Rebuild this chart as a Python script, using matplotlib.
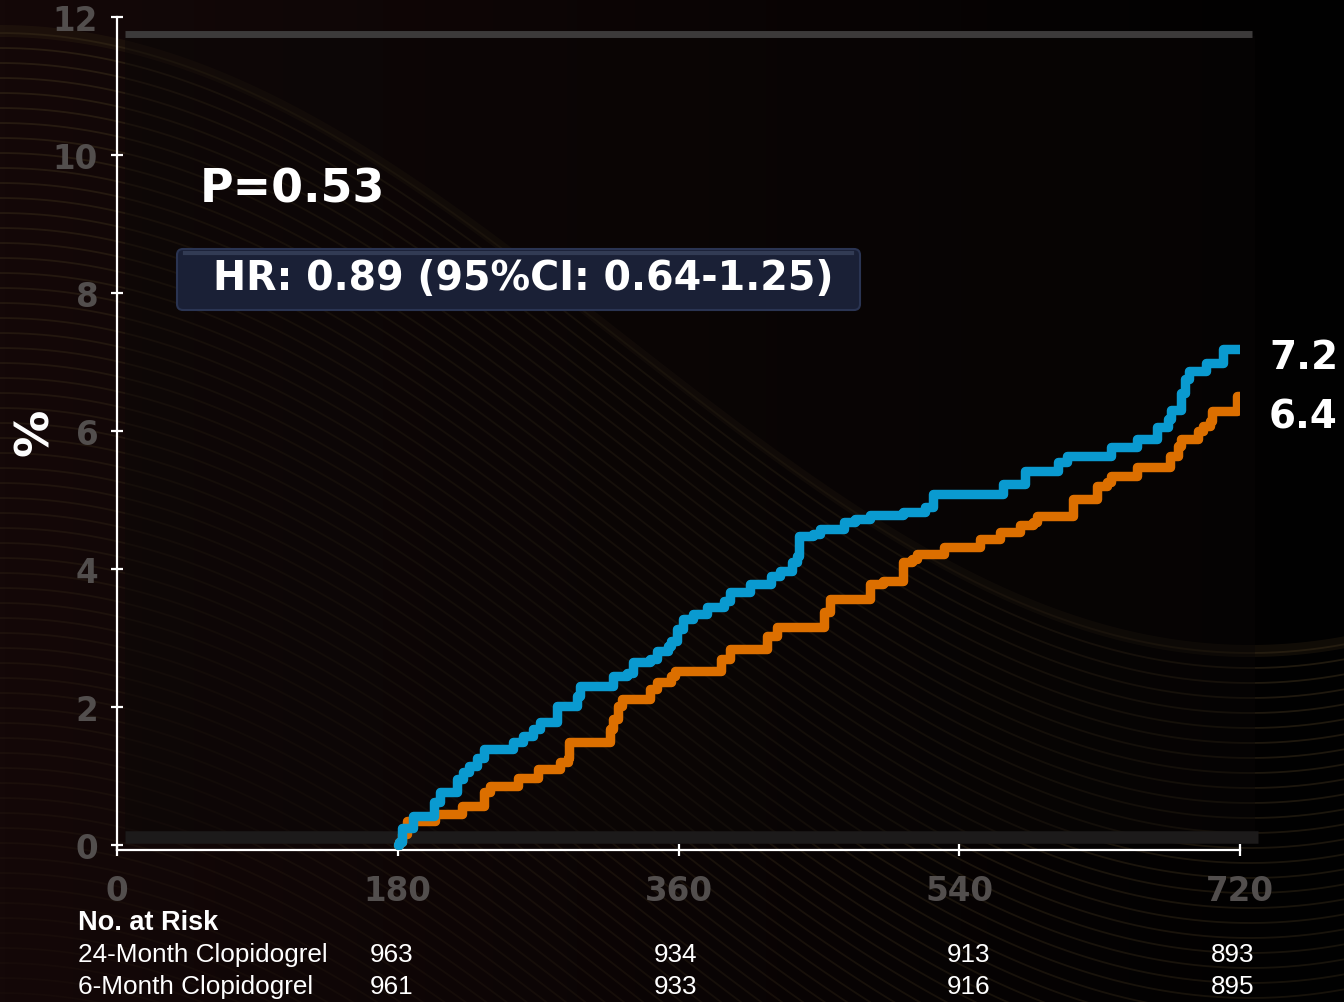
import numpy as np
import matplotlib
matplotlib.use("Agg")
import matplotlib.pyplot as plt
from matplotlib.patches import FancyBboxPatch, Rectangle
from matplotlib.colors import LinearSegmentedColormap

# ---- data ----
days_24m = [180, 181, 183, 190, 203, 207, 218, 222, 226, 231, 235, 254, 260, 267, 271, 282,
            295, 297, 318, 327, 331, 342, 346, 353, 355, 359, 363, 369, 378, 389, 393,
            406, 419, 425, 433, 436, 437, 446, 451, 466, 473, 483, 504, 518, 523, 568,
            582, 603, 609, 637, 654, 667, 674, 676, 682, 685, 687, 698, 709, 720]
pct_24m = [0.0, 0.05, 0.25, 0.42, 0.62, 0.77, 0.96, 1.06, 1.15, 1.27, 1.39, 1.49, 1.58, 1.68,
           1.78, 2.02, 2.16, 2.30, 2.45, 2.50, 2.65, 2.70, 2.81, 2.88, 2.96, 3.13, 3.28,
           3.35, 3.45, 3.54, 3.67, 3.78, 3.90, 3.97, 4.10, 4.19, 4.48, 4.51, 4.58, 4.68,
           4.72, 4.78, 4.83, 4.90, 5.09, 5.23, 5.42, 5.55, 5.64, 5.77, 5.88, 6.06, 6.17,
           6.30, 6.55, 6.75, 6.87, 6.99, 7.19, 7.19]

days_6m = [180, 181, 183, 186, 204, 221, 235, 239, 257, 270, 284, 289, 290, 316, 318, 321,
           324, 342, 346, 355, 358, 387, 393, 417, 423, 453, 457, 483, 491, 504, 510,
           513, 530, 553, 566, 579, 587, 590, 613, 628, 635, 637, 654, 675, 680, 682,
           693, 696, 701, 702, 718, 720]
pct_6m = [0.0, 0.05, 0.16, 0.35, 0.45, 0.57, 0.77, 0.86, 0.98, 1.10, 1.20, 1.27, 1.49, 1.68,
          1.83, 2.02, 2.12, 2.26, 2.36, 2.45, 2.52, 2.70, 2.84, 3.03, 3.16, 3.38, 3.57,
          3.78, 3.83, 4.10, 4.15, 4.22, 4.32, 4.43, 4.54, 4.64, 4.68, 4.77, 5.01, 5.20,
          5.26, 5.35, 5.48, 5.64, 5.78, 5.88, 6.00, 6.07, 6.14, 6.29, 6.51, 6.51]

end_labels = ["7.2", "6.4"]
x_ticks = [0, 180, 360, 540, 720]
y_ticks = [0, 2, 4, 6, 8, 10, 12]
risk_rows = ["24-Month Clopidogrel", "6-Month Clopidogrel"]
risk_24m = [963, 934, 913, 893]
risk_6m = [961, 933, 916, 895]
risk_days = [180, 360, 540, 720]

BLUE = "#0a9ad0"
ORANGE = "#dc6f00"
BG = "#080404"
TICKGRAY = "#524e4d"

W, H = 1344, 1003
fig = plt.figure(figsize=(W / 100, H / 100), dpi=100, facecolor=BG)

# ---- decorative background (pixel coords) ----
bg = fig.add_axes([0, 0, 1, 1])
bg.set_xlim(0, W); bg.set_ylim(H, 0); bg.axis("off")
grad = np.linspace(1, 0, 256)[None, :]
cm = LinearSegmentedColormap.from_list("bgc", ["#010101", "#140808"])
bg.imshow(grad, cmap=cm, extent=[0, W, H, 0], aspect="auto", zorder=0)
xs = np.linspace(-50, W + 50, 500)
edge = 340 - 310 * np.cos(np.pi * xs / 1250)
for k in range(70):
    a = 0.55 * (1 - k / 80)
    bg.plot(xs, edge + 4 + k * 15, color="#3a2e1a", lw=1.3, alpha=a, zorder=0.5)
bg.fill_between(xs, edge - 4, edge + 8, color="#2e2212", alpha=0.35, lw=0, zorder=0.5)
# plot panel
bg.add_patch(Rectangle((125, 37), 1130, 806, facecolor="#0a0706", alpha=0.45,
                       edgecolor="none", zorder=1))
bg.plot([125, 1252], [35, 35], color="#3c3a3a", lw=5, solid_capstyle="butt", zorder=1)
bg.plot([125, 1258], [838, 838], color="#1c1a1a", lw=9, solid_capstyle="butt", zorder=1)
# HR box
bg.add_patch(FancyBboxPatch((177, 250), 683, 61, boxstyle="round,pad=0,rounding_size=6",
                            facecolor="#1a2036", edgecolor="#2a3452", lw=1.5, zorder=2))
bg.plot([185, 852], [254, 254], color="#39425c", lw=3, alpha=0.8, zorder=2)

# ---- main axes ----
ax = fig.add_axes([117 / W, 1 - 851 / H, (1240 - 117) / W, (851 - 18) / H])
ax.patch.set_alpha(0)
ax.step(days_6m, pct_6m, where="post", color=ORANGE, lw=6.8,
        solid_joinstyle="round", solid_capstyle="round", zorder=3)
ax.step(days_24m, pct_24m, where="post", color=BLUE, lw=6.8,
        solid_joinstyle="round", solid_capstyle="round", zorder=4)

ax.set_xlim(0, 720)
ax.set_ylim(-0.07, 12)
ax.set_xticks(x_ticks)
ax.set_yticks(y_ticks)
for s in ["top", "right"]:
    ax.spines[s].set_visible(False)
for s in ["left", "bottom"]:
    ax.spines[s].set_color("white")
    ax.spines[s].set_linewidth(1.6)
ax.tick_params(axis="both", direction="inout", length=9, width=1.6, color="white",
               labelcolor=TICKGRAY, labelsize=23.5)
ax.tick_params(axis="x", pad=13)
ax.tick_params(axis="y", pad=9)
for lab in ax.get_xticklabels() + ax.get_yticklabels():
    lab.set_fontweight("bold")

fig.text(35 / W, 1 - 432 / H, "%", color="white", fontsize=34, fontweight="bold",
         rotation=90, ha="center", va="center")

# end-of-curve labels
ax.annotate(end_labels[0], xy=(720, pct_24m[-1]), xytext=(1269 / W, 1 - 358 / H),
            textcoords="figure fraction", color="white", fontsize=28, fontweight="bold",
            ha="left", va="center")
ax.annotate(end_labels[1], xy=(720, pct_6m[-1]), xytext=(1269 / W, 1 - 418 / H),
            textcoords="figure fraction", color="white", fontsize=28, fontweight="bold",
            ha="left", va="center")

fig.text(200 / W, 1 - 190 / H, "P=0.53", color="white", fontsize=33, fontweight="bold",
         ha="left", va="center")
fig.text(213 / W, 1 - 279 / H, "HR: 0.89 (95%CI: 0.64-1.25)", color="white", fontsize=28.5,
         fontweight="bold", ha="left", va="center")

# ---- numbers at risk ----
sans = ["Liberation Sans", "DejaVu Sans"]
col_shift = [-6, -3, 9, -7]  # columns are not exactly under the ticks in the original
fig.text(78 / W, 1 - 923 / H, "No. at Risk", color="white", fontsize=19.5,
         fontweight="bold", family=sans, ha="left", va="center")
for row, counts, ypx in zip(risk_rows, [risk_24m, risk_6m], [955, 987]):
    fig.text(78 / W, 1 - ypx / H, row, color="white", fontsize=18.8, family=sans,
             ha="left", va="center")
    for d, n, dx in zip(risk_days, counts, col_shift):
        xfig = (ax.transData.transform((d, 0))[0] + dx) / W
        fig.text(xfig, 1 - ypx / H, str(n), color="white", fontsize=18.8, family=sans,
                 ha="center", va="center")

fig.savefig("out.png", dpi=100, facecolor=BG)
